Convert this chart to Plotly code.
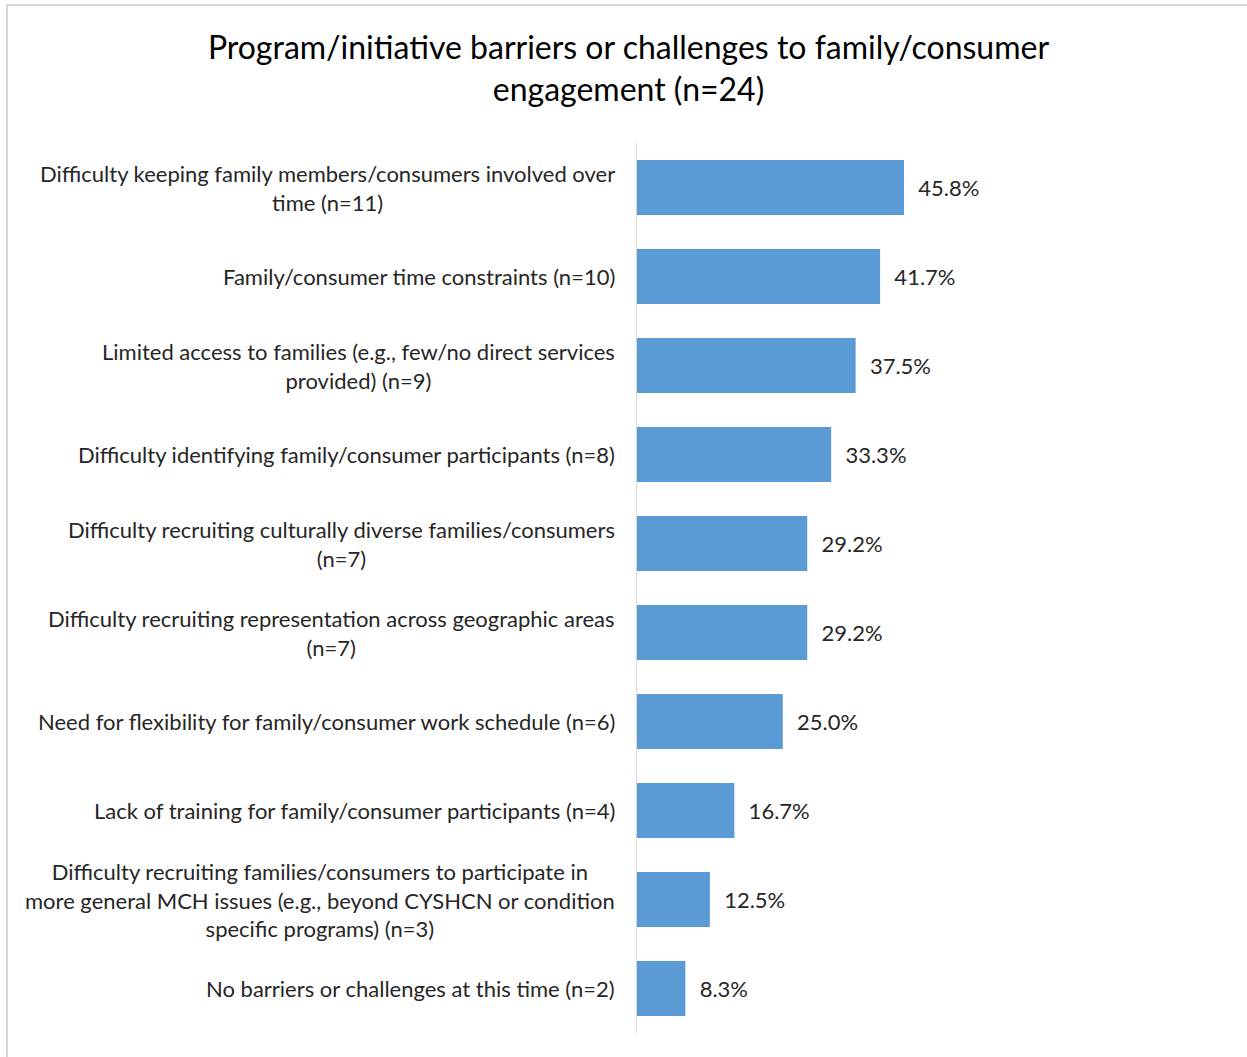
import plotly.graph_objects as go

# Chart data
categories = [
    "Difficulty keeping family members/consumers involved over<br>time (n=11)",
    "Family/consumer time constraints (n=10)",
    "Limited access to families (e.g., few/no direct services<br>provided) (n=9)",
    "Difficulty identifying family/consumer participants (n=8)",
    "Difficulty recruiting culturally diverse families/consumers<br>(n=7)",
    "Difficulty recruiting representation across geographic areas<br>(n=7)",
    "Need for flexibility for family/consumer work schedule (n=6)",
    "Lack of training for family/consumer participants (n=4)",
    "Difficulty recruiting families/consumers to participate in<br>more general MCH issues (e.g., beyond CYSHCN or condition<br>specific programs) (n=3)",
    "No barriers or challenges at this time (n=2)",
]
percent = [45.8, 41.7, 37.5, 33.3, 29.2, 29.2, 25.0, 16.7, 12.5, 8.3]

title_text = "Program/initiative barriers or challenges to family/consumer<br>engagement (n=24)"

font_family = "Lato, 'Open Sans', sans-serif"
text_color = "#262626"

W, H = 1247, 1057
ML, MR, MT, MB = 637, 27, 143, 24

bars = go.Bar(
    x=percent,
    y=categories,
    orientation="h",
    marker=dict(color="#5B9BD5", line=dict(width=0)),
    text=["%.1f%%" % v for v in percent],
    texttemplate="  %{text}",
    textposition="outside",
    textfont=dict(size=22, color=text_color, family=font_family),
    cliponaxis=False,
    hoverinfo="skip",
)

fig = go.Figure(data=[bars])

# Category labels as centred annotations to the left of the axis
for cat in categories:
    fig.add_annotation(
        x=0, xref="paper", y=cat, yref="y",
        text=cat, showarrow=False,
        xanchor="right", yanchor="middle", align="center",
        xshift=-20,
        font=dict(size=22, color=text_color, family=font_family),
    )

fig.update_layout(
    width=W,
    height=H,
    margin=dict(l=ML, r=MR, t=MT, b=MB),
    paper_bgcolor="white",
    plot_bgcolor="white",
    showlegend=False,
    bargap=0.38,
    title=dict(
        text=title_text,
        x=0.504, xanchor="center",
        y=1 - 59 / H, yanchor="top",
        font=dict(size=32, color="#000000", family=font_family),
    ),
    xaxis=dict(
        range=[0, 100],
        visible=False,
        showgrid=False,
        zeroline=False,
    ),
    yaxis=dict(
        autorange="reversed",
        showticklabels=False,
        showgrid=False,
        showline=True,
        linecolor="#D9D9D9",
        linewidth=1,
        ticks="",
        zeroline=False,
    ),
)

# Chart border
pw = W - ML - MR
ph = H - MT - MB
fig.add_shape(
    type="rect", xref="paper", yref="paper",
    x0=(7 - ML) / pw, x1=1 + (MR + 20) / pw,
    y0=-(MB + 20) / ph, y1=1 + (MT - 5) / ph,
    line=dict(color="#D9D9D9", width=2),
    fillcolor="rgba(0,0,0,0)",
    layer="below",
)

fig.write_html(
    "out.html",
    config={"displayModeBar": False},
    post_script="document.body.style.margin='0';",
)
